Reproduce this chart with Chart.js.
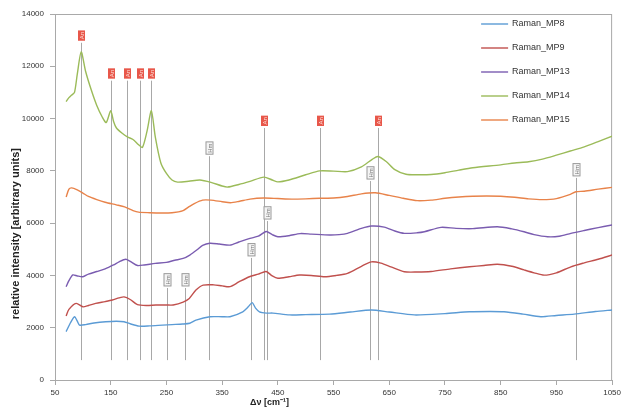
<!DOCTYPE html>
<html>
<head>
<meta charset="utf-8">
<script src="https://cdn.jsdelivr.net/npm/chart.js@4.4.0/dist/chart.umd.min.js"></script>
<style>
  html, body { margin: 0; padding: 0; background: #fff; }
  #wrap { width: 624px; height: 414px; }
</style>
</head>
<body>
<div id="wrap"><canvas id="raman"></canvas></div>
<script>
// Spectra: wavenumber (cm-1) and intensity
const mp8Wave = [70, 78, 85, 90, 94, 105, 120, 141, 160, 174, 185, 201, 220, 243, 260, 279, 292, 303, 328, 350, 364, 387, 397, 404, 410, 417, 430, 441, 471, 500, 543, 580, 618, 650, 695, 750, 794, 830, 856, 890, 922, 950, 982, 1020, 1050];
const mp8Int  = [1850, 2200, 2420, 2250, 2100, 2120, 2180, 2230, 2250, 2230, 2150, 2060, 2070, 2100, 2120, 2140, 2170, 2290, 2420, 2420, 2420, 2610, 2800, 2960, 2750, 2610, 2560, 2560, 2490, 2500, 2520, 2600, 2680, 2600, 2490, 2540, 2610, 2620, 2610, 2520, 2420, 2470, 2520, 2620, 2680];

const mp9Wave = [70, 75, 88, 100, 110, 123, 140, 153, 165, 174, 185, 198, 215, 231, 250, 262, 280, 291, 303, 316, 335, 350, 364, 380, 399, 415, 429, 440, 450, 470, 489, 510, 534, 555, 575, 600, 618, 635, 653, 677, 700, 725, 760, 794, 820, 844, 870, 892, 910, 928, 950, 976, 1000, 1025, 1050];
const mp9Int  = [2450, 2700, 2930, 2800, 2850, 2930, 3000, 3060, 3140, 3180, 3080, 2880, 2850, 2870, 2870, 2870, 2980, 3120, 3440, 3630, 3640, 3600, 3570, 3750, 3950, 4050, 4150, 3980, 3890, 3950, 4015, 4000, 3950, 4000, 4080, 4350, 4520, 4470, 4330, 4140, 4130, 4150, 4250, 4330, 4380, 4430, 4350, 4210, 4100, 4010, 4100, 4330, 4480, 4620, 4780];

const mp13Wave = [70, 75, 82, 90, 100, 110, 125, 140, 155, 165, 177, 185, 198, 210, 230, 250, 265, 280, 292, 305, 315, 328, 345, 364, 380, 400, 415, 429, 440, 450, 470, 490, 510, 543, 560, 575, 600, 618, 641, 660, 677, 700, 713, 743, 770, 800, 844, 870, 892, 910, 934, 955, 976, 1000, 1025, 1050];
const mp13Int  = [3570, 3800, 4020, 3980, 3950, 4050, 4150, 4250, 4400, 4520, 4620, 4540, 4380, 4400, 4460, 4500, 4580, 4650, 4780, 4980, 5150, 5230, 5200, 5160, 5280, 5420, 5500, 5680, 5560, 5480, 5520, 5600, 5580, 5545, 5560, 5610, 5800, 5890, 5850, 5700, 5610, 5630, 5670, 5840, 5800, 5790, 5860, 5780, 5670, 5560, 5480, 5500, 5610, 5720, 5830, 5930];

const mp14Wave = [70, 75, 80, 85, 90, 97, 105, 115, 125, 135, 142, 150, 155, 160, 170, 180, 190, 200, 207, 215, 223, 230, 240, 250, 260, 270, 290, 310, 330, 350, 360, 380, 400, 425, 440, 450, 470, 500, 525, 550, 575, 600, 620, 630, 645, 660, 680, 700, 725, 750, 775, 800, 850, 875, 900, 925, 950, 975, 1000, 1025, 1050];
const mp14Int  = [10650, 10800, 10900, 11000, 11700, 12550, 11800, 11100, 10500, 10050, 9850, 10300, 9900, 9650, 9450, 9300, 9200, 9000, 8900, 9500, 10300, 9300, 8300, 7900, 7650, 7570, 7600, 7650, 7560, 7420, 7380, 7480, 7600, 7760, 7650, 7580, 7650, 7850, 8000, 7990, 7970, 8150, 8450, 8550, 8350, 8050, 7870, 7850, 7860, 7930, 8030, 8120, 8230, 8300, 8350, 8450, 8600, 8760, 8920, 9120, 9330];

const mp15Wave = [70, 75, 80, 90, 100, 110, 125, 140, 160, 175, 190, 200, 220, 240, 260, 280, 290, 300, 315, 330, 350, 365, 380, 400, 425, 450, 475, 500, 525, 550, 575, 600, 625, 650, 675, 700, 725, 750, 775, 800, 825, 850, 875, 900, 925, 950, 975, 985, 1000, 1025, 1050];
const mp15Int  = [7000, 7300, 7350, 7270, 7150, 7020, 6900, 6800, 6700, 6620, 6480, 6420, 6400, 6390, 6400, 6480, 6620, 6750, 6880, 6880, 6820, 6780, 6830, 6920, 6960, 6940, 6920, 6930, 6950, 6960, 7020, 7120, 7160, 7060, 6950, 6860, 6880, 6950, 7000, 7030, 7040, 7030, 6990, 6930, 6900, 6940, 7100, 7200, 7220, 7300, 7370];

const seriesNames  = ['Raman_MP8', 'Raman_MP9', 'Raman_MP13', 'Raman_MP14', 'Raman_MP15'];
const seriesColors = ['#5b9bd5', '#c0504d', '#7a5cb0', '#9bbb59', '#e8834a'];

// Peak markers (vertical lines with small tags)
const markerWave = [97, 150, 179, 202, 223, 251, 284, 327, 402, 426, 430, 526, 616, 629, 985];
const markerTop  = [12900, 11450, 11450, 11450, 11450, 3520, 3520, 8560, 4670, 9640, 6080, 9640, 7610, 9640, 7730];
const markerRed  = [true, true, true, true, true, false, false, false, false, true, false, true, false, true, false];
const markerText = ['An', 'An', 'An', 'An', 'An', 'Hm', 'Hm', 'Hm', 'Hm', 'An', 'Hm', 'An', 'Hm', 'An', 'Hm'];
const markerBottom = 760;

const FONT = '"Liberation Sans", Arial, sans-serif';

const allWaves = [mp8Wave, mp9Wave, mp13Wave, mp14Wave, mp15Wave];
const allInts  = [mp8Int, mp9Int, mp13Int, mp14Int, mp15Int];

const datasets = seriesNames.map((name, i) => ({
  label: name,
  data: allWaves[i].map((w, j) => ({ x: w, y: allInts[i][j] })),
  borderColor: seriesColors[i],
  borderWidth: 1.4,
  pointRadius: 0,
  tension: 0.25,
  fill: false
}));

// Plot frame, peak markers, axis titles and legend
const decorations = {
  id: 'decorations',
  beforeDatasetsDraw(chart) {
    const { ctx, chartArea: a, scales: { x, y } } = chart;
    ctx.save();
    ctx.strokeStyle = '#a9a9a9';
    ctx.lineWidth = 1;
    ctx.strokeRect(a.left + 0.5, a.top + 0.5, a.right - a.left - 1, a.bottom - a.top);

    const yb = y.getPixelForValue(markerBottom);
    markerWave.forEach((w, i) => {
      const px = Math.round(x.getPixelForValue(w)) + 0.5;
      const top = y.getPixelForValue(markerTop[i]);
      ctx.strokeStyle = '#a8a8a8';
      ctx.lineWidth = 1;
      ctx.beginPath();
      ctx.moveTo(px, top);
      ctx.lineTo(px, yb);
      ctx.stroke();

      ctx.save();
      ctx.translate(px, top - 2);
      ctx.rotate(-Math.PI / 2);
      ctx.font = '6px ' + FONT;
      const tw = ctx.measureText(markerText[i]).width + 3;
      if (markerRed[i]) {
        ctx.fillStyle = '#e8574a';
        ctx.fillRect(0, -3.5, tw, 7);
        ctx.fillStyle = '#fde2dc';
      } else {
        ctx.fillStyle = '#f4f4f4';
        ctx.fillRect(0, -3.5, tw, 7);
        ctx.strokeStyle = '#9a9a9a';
        ctx.strokeRect(0, -3.5, tw, 7);
        ctx.fillStyle = '#777';
      }
      ctx.textBaseline = 'middle';
      ctx.fillText(markerText[i], 1.5, 0.5);
      ctx.restore();
    });
    ctx.restore();
  },
  afterDraw(chart) {
    const { ctx, chartArea: a } = chart;
    ctx.save();
    ctx.fillStyle = '#222';
    ctx.textAlign = 'center';
    ctx.textBaseline = 'middle';
    ctx.font = 'bold 9px ' + FONT;
    ctx.fillText('Δν [cm⁻¹]', a.left + (a.right - a.left) * 0.385, 403);
    ctx.save();
    ctx.translate(16, a.top + (a.bottom - a.top) * 0.6);
    ctx.rotate(-Math.PI / 2);
    ctx.font = 'bold 11px ' + FONT;
    ctx.fillText('relative intensity [arbitrary units]', 0, 0);
    ctx.restore();

    // legend, top right inside the plot
    ctx.font = '9px ' + FONT;
    ctx.textAlign = 'left';
    seriesNames.forEach((name, i) => {
      const ly = a.top + 10 + i * 24;
      ctx.strokeStyle = seriesColors[i];
      ctx.lineWidth = 1.4;
      ctx.beginPath();
      ctx.moveTo(a.right - 131, ly);
      ctx.lineTo(a.right - 104, ly);
      ctx.stroke();
      ctx.fillStyle = '#333';
      ctx.fillText(name, a.right - 100, ly);
    });
    ctx.restore();
  }
};

new Chart(document.getElementById('raman'), {
  type: 'line',
  data: { datasets },
  plugins: [decorations],
  options: {
    responsive: true,
    maintainAspectRatio: false,
    animation: false,
    layout: { padding: { left: 0, right: 11, top: 14, bottom: 0 } },
    plugins: {
      legend: { display: false },
      tooltip: { enabled: false }
    },
    scales: {
      x: {
        type: 'linear',
        min: 50,
        max: 1050,
        afterFit: s => { s.height = 34; },
        afterBuildTicks: s => { s.ticks = s.ticks.filter(t => (t.value - 50) % 100 === 0); },
        ticks: { stepSize: 100, padding: 3, color: '#333', font: { family: FONT, size: 8 }, maxRotation: 0, callback: v => String(v) },
        grid: { drawOnChartArea: false, tickLength: 5, color: '#a9a9a9' },
        border: { color: '#a9a9a9' }
      },
      y: {
        min: 0,
        max: 14000,
        afterFit: s => { s.width = 55; },
        ticks: { stepSize: 2000, padding: 6, color: '#333', font: { family: FONT, size: 8 }, callback: v => String(v) },
        grid: { drawOnChartArea: false, tickLength: 5, color: '#a9a9a9' },
        border: { color: '#a9a9a9' }
      }
    }
  }
});
</script>
</body>
</html>
